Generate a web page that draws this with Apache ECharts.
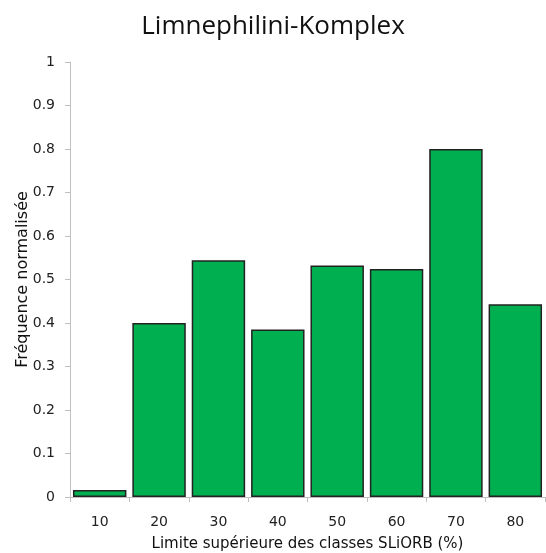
<!DOCTYPE html>
<html><head><meta charset="utf-8">
<script src="https://cdn.jsdelivr.net/npm/echarts@6/dist/echarts.min.js"></script>
<style>html,body{margin:0;padding:0;background:#fff}#c{width:546px;height:553px}</style>
</head><body><div id="c"></div>
<script>
const categories = ['10','20','30','40','50','60','70','80'];
const values = [0.016, 0.40, 0.544, 0.385, 0.532, 0.524, 0.80, 0.443];
const titleText = 'Limnephilini-Komplex';
const xName = 'Limite supérieure des classes SLiORB (%)';
const yName = 'Fréquence normalisée';
const titleFont = '"Open Sans", sans-serif';
const font = '"DejaVu Sans", Verdana, sans-serif';
const chart = echarts.init(document.getElementById('c'), null, {renderer:'canvas'});
chart.setOption({
  animation:false,
  backgroundColor:'#fff',
  title:{text:titleText,left:'center',top:9,textStyle:{fontFamily:titleFont,fontSize:26,fontWeight:'normal',color:'#111'}},
  grid:{left:70,right:1,top:62,bottom:56,containLabel:false,outerBoundsMode:'none'},
  xAxis:{type:'category',data:categories,
    axisLine:{lineStyle:{color:'#bfbfbf',width:1}},
    axisTick:{show:true,alignWithLabel:false,length:5,lineStyle:{color:'#bfbfbf'}},
    axisLabel:{fontFamily:font,fontSize:14,color:'#222',margin:18},
    name:xName,nameLocation:'middle',nameGap:40,nameMoveOverlap:false,
    nameTextStyle:{fontFamily:font,fontSize:15,color:'#111'}},
  yAxis:{type:'value',min:0,max:1,interval:0.1,
    axisLine:{show:true,lineStyle:{color:'#bfbfbf',width:1}},
    axisTick:{show:true,length:5,lineStyle:{color:'#bfbfbf'}},
    splitLine:{show:false},
    axisLabel:{fontFamily:font,fontSize:14,color:'#222',margin:15},
    name:yName,nameLocation:'middle',nameGap:39,nameRotate:90,nameMoveOverlap:false,
    nameTextStyle:{fontFamily:font,fontSize:16,color:'#111'}},
  series:[{type:'bar',data:values,barCategoryGap:'10%',
    itemStyle:{color:'#00b050',borderColor:'#222',borderWidth:1.5}}]
});
</script></body></html>
